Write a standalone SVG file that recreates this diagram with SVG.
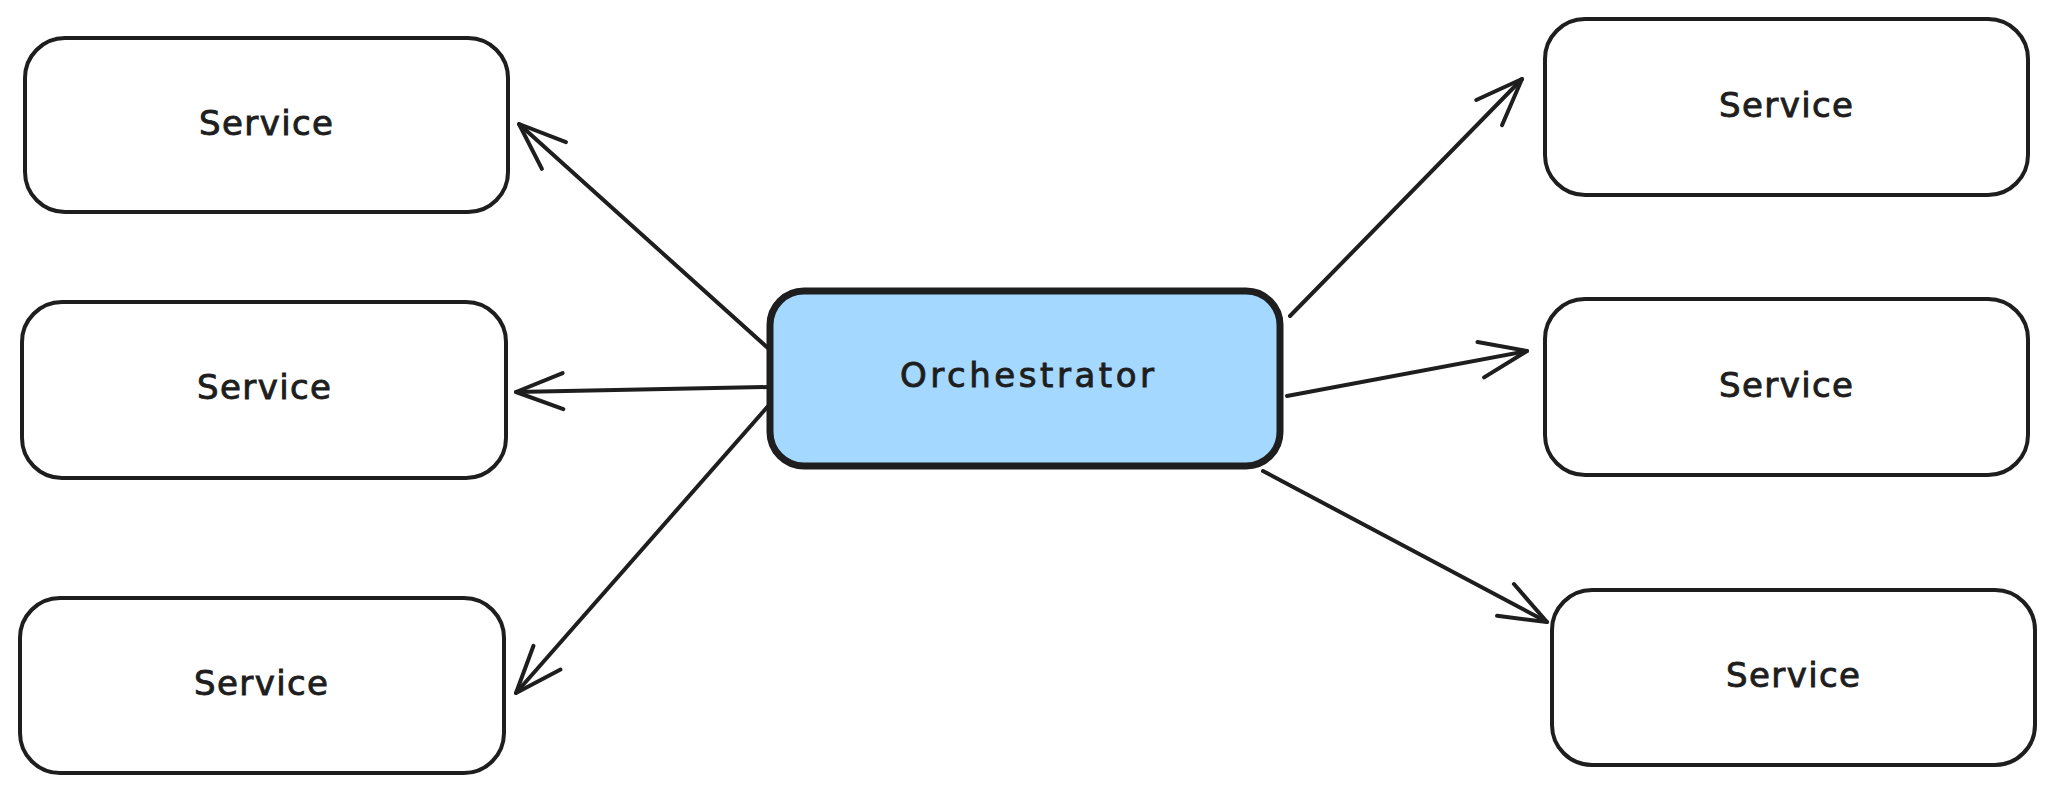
<svg xmlns="http://www.w3.org/2000/svg" width="2055" height="790" viewBox="0 0 2055 790">
<style>
.box{fill:#ffffff;stroke:#1e1e1e;stroke-width:4;}
.orch{fill:#a5d8ff;stroke:#1e1e1e;stroke-width:7;}
.lbl{font-family:"DejaVu Sans","Liberation Sans",sans-serif;font-size:34px;fill:#1e1e1e;stroke:#1e1e1e;stroke-width:0.9;text-anchor:middle;}
.conn{fill:none;stroke:#1e1e1e;stroke-width:4;stroke-linecap:round;}
</style>
<defs>
<marker id="ah" viewBox="-55 -25 60 50" markerWidth="60" markerHeight="50" refX="0" refY="0" orient="auto" markerUnits="userSpaceOnUse">
<path d="M-47,-18 L0,0 L-47,18" fill="none" stroke="#1e1e1e" stroke-width="4" stroke-linecap="round" stroke-linejoin="round"/>
</marker>
</defs>
<rect width="2055" height="790" fill="#ffffff"/>
<g id="connectors">
<path class="conn" d="M769,349 L519,124" marker-end="url(#ah)"/>
<path class="conn" d="M769,387 L516,392" marker-end="url(#ah)"/>
<path class="conn" d="M769,405 L516,693" marker-end="url(#ah)"/>
<path class="conn" d="M1290,316 L1522,79" marker-end="url(#ah)"/>
<path class="conn" d="M1287,396 L1527,351" marker-end="url(#ah)"/>
<path class="conn" d="M1263,471 L1547,622" marker-end="url(#ah)"/>
</g>
<g id="orchestrator">
<rect class="orch" x="770" y="291" width="510" height="175" rx="34"/>
<text class="lbl" x="1027" y="387" textLength="254">Orchestrator</text>
</g>
<g id="service-l1">
<rect class="box" x="25" y="38" width="483" height="174" rx="40"/>
<text class="lbl" x="266" y="135" textLength="134">Service</text>
</g>
<g id="service-l2">
<rect class="box" x="22" y="302" width="484" height="176" rx="40"/>
<text class="lbl" x="264" y="399" textLength="134">Service</text>
</g>
<g id="service-l3">
<rect class="box" x="20" y="598" width="484" height="175" rx="40"/>
<text class="lbl" x="261" y="695" textLength="134">Service</text>
</g>
<g id="service-r1">
<rect class="box" x="1545" y="19" width="483" height="176" rx="40"/>
<text class="lbl" x="1786" y="117" textLength="134">Service</text>
</g>
<g id="service-r2">
<rect class="box" x="1545" y="299" width="483" height="176" rx="40"/>
<text class="lbl" x="1786" y="397" textLength="134">Service</text>
</g>
<g id="service-r3">
<rect class="box" x="1552" y="590" width="483" height="175" rx="40"/>
<text class="lbl" x="1793" y="687" textLength="134">Service</text>
</g>
</svg>
